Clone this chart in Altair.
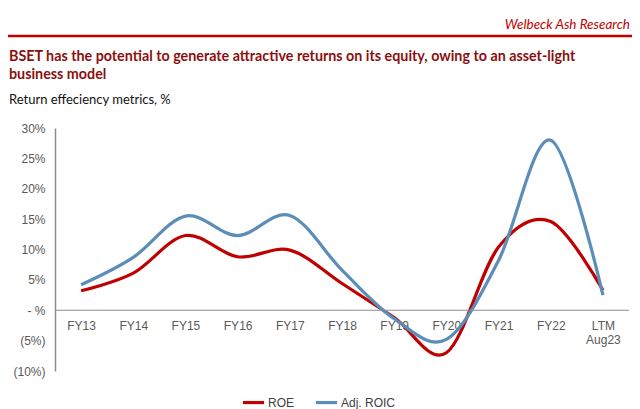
import altair as alt
import pandas as pd

categories = ["FY13", "FY14", "FY15", "FY16", "FY17", "FY18", "FY19", "FY20", "FY21", "FY22", "LTM\nAug23"]
roe = [3.2, 6.1, 12.3, 8.8, 9.9, 4.4, -1.2, -7.0, 10.4, 14.6, 3.3]
adj_roic = [4.2, 8.7, 15.5, 12.3, 15.6, 6.6, -1.4, -4.8, 8.2, 28.0, 2.5]
series_names = ["ROE", "Adj. ROIC"]
series_colors = ["#C00000", "#5B8DB9"]

rows = []
for c, a, b in zip(categories, roe, adj_roic):
    rows.append({"cat": c, "series": "ROE", "value": a})
    rows.append({"cat": c, "series": "Adj. ROIC", "value": b})
df = pd.DataFrame(rows)

W, H = 574, 243
AXIS_FONT = "Liberation Sans"
TITLE_FONT = "Lato"

y_scale = alt.Scale(domain=[-10, 30], nice=False, zero=False)
y_axis = alt.Axis(
    title=None, values=[-10, -5, 0, 5, 10, 15, 20, 25, 30], grid=False, ticks=False,
    domain=True, domainColor="#8C8C8C", domainWidth=1.5,
    labelFont=AXIS_FONT, labelFontSize=12, labelColor="#595959", labelPadding=10,
    labelExpr="datum.value == 0 ? '- %' : (datum.value < 0 ? '(' + abs(datum.value) + '%)' : datum.value + '%')",
)

x_enc = alt.X(
    "cat:N",
    sort=categories,
    scale=alt.Scale(paddingInner=0, paddingOuter=0),
    axis=alt.Axis(
        title=None, orient="bottom", offset=-61, domain=False, ticks=False,
        labelAngle=0, labelFont=AXIS_FONT, labelFontSize=12, labelColor="#595959",
        labelPadding=10, labelLineHeight=14,
        labelExpr="split(datum.label, '\\n')",
    ),
)

lines = alt.Chart(df).mark_line(
    interpolate="cardinal", tension=0, strokeWidth=3.2, clip=False
).encode(
    x=x_enc,
    y=alt.Y("value:Q", scale=y_scale, axis=y_axis),
    color=alt.Color(
        "series:N",
        scale=alt.Scale(domain=series_names, range=series_colors),
        legend=alt.Legend(
            title=None, orient="none", legendX=186, legendY=262, direction="horizontal",
            symbolType="stroke", symbolStrokeWidth=3.2, symbolSize=450,
            labelFont=AXIS_FONT, labelFontSize=12, labelColor="#404040",
            columnPadding=14, labelOffset=2,
        ),
    ),
)

zero_rule = alt.Chart(pd.DataFrame({"v": [0]})).mark_rule(color="#8C8C8C", strokeWidth=1.2).encode(
    y=alt.Y("v:Q", scale=y_scale, axis=y_axis),
    x=alt.value(0), x2=alt.value(W),
)

header = alt.Chart(pd.DataFrame({"t": ["Welbeck Ash Research"]})).mark_text(
    align="right", baseline="middle", font=TITLE_FONT, fontSize=13.5, fontStyle="italic", color="#C00000"
).encode(text="t:N", x=alt.value(W + 1), y=alt.value(-103))

red_line = alt.Chart(pd.DataFrame({"v": [0]})).mark_rule(color="#C00000", strokeWidth=2.5).encode(
    x=alt.value(-47), x2=alt.value(W + 3), y=alt.value(-92)
)

title_lines = [
    "BSET has the potential to generate attractive returns on its equity, owing to an asset-light",
    "business model",
]
title1 = alt.Chart(pd.DataFrame({"t": [title_lines[0]]})).mark_text(
    align="left", baseline="middle", font=TITLE_FONT, fontSize=14.3, fontWeight="bold", color="#8B0F0F"
).encode(text="t:N", x=alt.value(-46), y=alt.value(-71))
title2 = alt.Chart(pd.DataFrame({"t": [title_lines[1]]})).mark_text(
    align="left", baseline="middle", font=TITLE_FONT, fontSize=14.3, fontWeight="bold", color="#8B0F0F"
).encode(text="t:N", x=alt.value(-46), y=alt.value(-53))
subtitle = alt.Chart(pd.DataFrame({"t": ["Return effeciency metrics, %"]})).mark_text(
    align="left", baseline="middle", font=TITLE_FONT, fontSize=13, color="#111111"
).encode(text="t:N", x=alt.value(-46), y=alt.value(-28))

chart = alt.layer(lines, zero_rule, header, red_line, title1, title2, subtitle).resolve_scale(
    y="shared"
).properties(
    width=W, height=H,
    autosize=alt.AutoSizeParams(type="none"),
    padding={"left": 55, "top": 128, "right": 11, "bottom": 38},
    background="white",
).configure_view(stroke=None)

chart.save("out.html", embed_options={"renderer": "svg", "actions": False})
